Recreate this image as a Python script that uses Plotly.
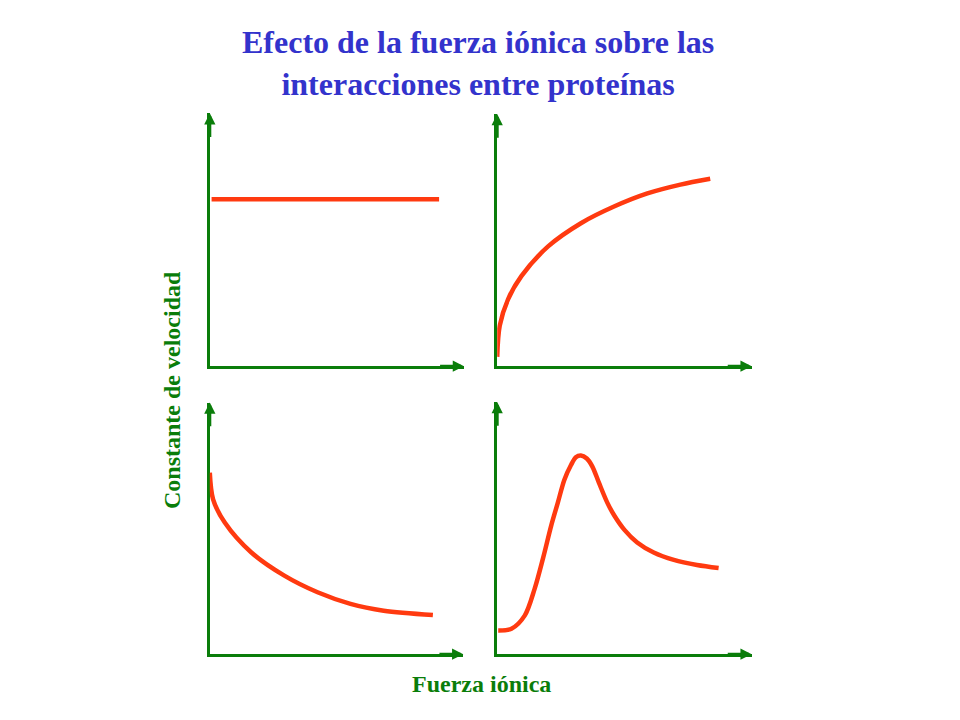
import plotly.graph_objects as go

# Curvas esquemáticas (unidades arbitrarias, ejes 0-10)
x_const = [0.07, 9.02]
y_const = [6.6, 6.6]

x_rise = [0.0, 0.1, 0.43, 0.95, 2.0, 3.29, 4.59, 5.9, 7.2, 8.37]
y_rise = [0.37, 1.61, 2.66, 3.57, 4.75, 5.67, 6.33, 6.85, 7.2, 7.43]

x_fall = [0.0, 0.13, 0.59, 1.64, 2.94, 4.25, 5.55, 6.86, 8.8]
y_fall = [7.21, 6.15, 5.23, 4.04, 3.12, 2.46, 2.0, 1.73, 1.56]

x_peak = [0.04, 0.56, 1.08, 1.47, 1.81, 2.12, 2.38, 2.64, 2.9, 3.09, 3.29, 3.52,
          3.74, 4.0, 4.33, 4.6, 5.0, 5.5, 6.15, 6.94, 7.85, 8.7]
y_peak = [0.94, 1.01, 1.53, 2.59, 3.84, 5.09, 6.0, 6.92, 7.5, 7.81, 7.88, 7.76,
          7.44, 6.79, 6.0, 5.5, 4.93, 4.43, 4.03, 3.74, 3.54, 3.42]

red = "#FF3A10"
green = "#0A7D0A"
blue = "#3333CC"

# the page body has an 8px margin, so the figure is a bit smaller and shifted
W, H, OFF = 952, 712, 8
LW = 3  # axis line width, drawn outside the domain edge


def px(x):
    return (x - OFF) / W


def py(y):
    return 1 - (y - OFF) / H


panels = [
    (x_const, y_const, [px(208.3 + LW / 2), px(464)], [py(367.7 - LW / 2), py(113.3)]),
    (x_rise, y_rise, [px(495.7 + LW / 2), px(751.7)], [py(367.7 - LW / 2), py(114)]),
    (x_fall, y_fall, [px(208.3 + LW / 2), px(463.3)], [py(655.7 - LW / 2), py(402.5)]),
    (x_peak, y_peak, [px(495.7 + LW / 2), px(751.7)], [py(655.7 - LW / 2), py(402)]),
]

fig = go.Figure()
annotations = []
layout = {}

for i, (xs, ys, xdom, ydom) in enumerate(panels, start=1):
    suffix = "" if i == 1 else str(i)
    fig.add_trace(go.Scatter(
        x=xs, y=ys, mode="lines",
        line=dict(color=red, width=4.5, shape="spline", smoothing=0.9),
        xaxis="x" + suffix, yaxis="y" + suffix,
        showlegend=False, hoverinfo="skip", cliponaxis=False
    ))
    axis_style = dict(range=[0, 10], showgrid=False, zeroline=False,
                      showticklabels=False, ticks="", showline=True,
                      linecolor=green, linewidth=LW, layer="below traces")
    layout["xaxis" + suffix] = dict(axis_style, domain=xdom, anchor="y" + suffix)
    layout["yaxis" + suffix] = dict(axis_style, domain=ydom, anchor="x" + suffix)

    # puntas de flecha de los ejes
    xr = "x" + suffix + " domain"
    yr = "y" + suffix + " domain"
    annotations.append(dict(x=1, y=0, ax=0.9, ay=0, xref=xr, yref=yr, axref=xr, ayref=yr,
                            text="", showarrow=True, arrowhead=2, arrowsize=0.75,
                            arrowwidth=LW, arrowcolor=green))
    annotations.append(dict(x=0, y=1, ax=0, ay=0.9, xref=xr, yref=yr, axref=xr, ayref=yr,
                            text="", showarrow=True, arrowhead=2, arrowsize=0.75,
                            arrowwidth=LW, arrowcolor=green))

annotations.append(dict(
    text="<b>Efecto de la fuerza iónica sobre las<br>interacciones entre proteínas</b>",
    x=px(478), y=py(63), xref="paper", yref="paper", showarrow=False,
    xanchor="center", yanchor="middle",
    font=dict(family="Liberation Serif", size=32, color=blue)
))
annotations.append(dict(
    text="<b>Constante de velocidad</b>",
    x=px(172), y=py(390), xref="paper", yref="paper", showarrow=False,
    textangle=-90, xanchor="center", yanchor="middle",
    font=dict(family="Liberation Serif", size=24, color=green)
))
annotations.append(dict(
    text="<b>Fuerza iónica</b>",
    x=px(481), y=py(684), xref="paper", yref="paper", showarrow=False,
    xanchor="center", yanchor="middle",
    font=dict(family="Liberation Serif", size=24, color=green)
))

fig.update_layout(
    width=W, height=H,
    margin=dict(l=0, r=0, t=0, b=0),
    paper_bgcolor="white", plot_bgcolor="white",
    annotations=annotations,
    **layout
)

fig.write_html("out.html")
